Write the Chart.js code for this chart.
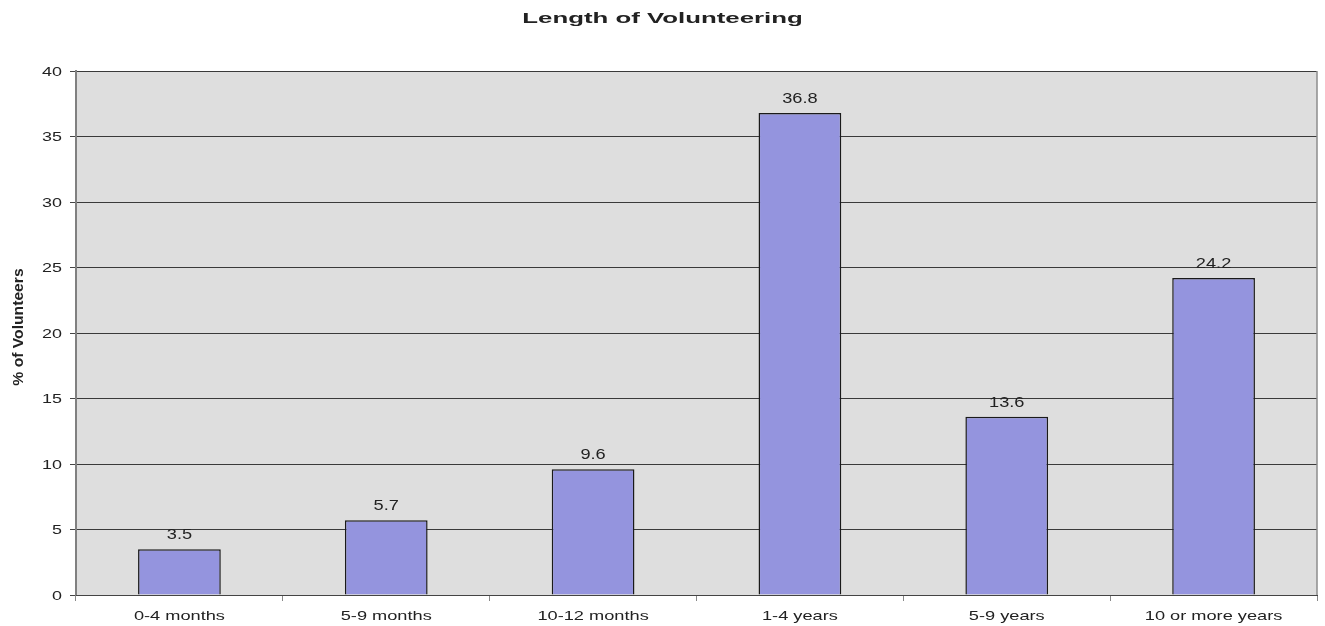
<!DOCTYPE html>
<html>
<head>
<meta charset="utf-8">
<script src="https://cdn.jsdelivr.net/npm/chart.js@4/dist/chart.umd.min.js"></script>
<style>
  html, body { margin: 0; padding: 0; background: #fff; }
  #wrap { width: 1325px; height: 626px; }
</style>
</head>
<body>
<div id="wrap"><canvas id="volchart"></canvas></div>
<script>
"use strict";

var chartTitle = 'Length of Volunteering';
var yAxisTitle = '% of Volunteers';
var categories = ['0-4 months', '5-9 months', '10-12 months', '1-4 years', '5-9 years', '10 or more years'];
var percentValues = [3.5, 5.7, 9.6, 36.8, 13.6, 24.2];
var yTicks = [0, 5, 10, 15, 20, 25, 30, 35, 40];

var FONT = '"Liberation Sans", Arial, sans-serif';

/* the original picture is stretched sideways, so text is drawn widened */
function wideText(ctx, text, x, y, font, sx, align, baseline) {
    ctx.save();
    ctx.font = font;
    ctx.fillStyle = '#222';
    ctx.textAlign = align;
    ctx.textBaseline = baseline;
    ctx.translate(x, y);
    ctx.scale(sx, 1);
    ctx.fillText(text, 0, 0);
    ctx.restore();
}

/* grey plot area behind the bars */
var plotBackground = {
    id: 'plotBackground',
    beforeDraw: function (chart) {
        var a = chart.chartArea, ctx = chart.ctx;
        ctx.save();
        ctx.fillStyle = '#dedede';
        ctx.fillRect(a.left, a.top, a.right - a.left, a.bottom - a.top);
        ctx.restore();
    },
    afterDraw: function (chart) {
        var a = chart.chartArea, ctx = chart.ctx;
        ctx.save();
        ctx.strokeStyle = '#8c8c8c';
        ctx.lineWidth = 1.5;
        ctx.beginPath();
        ctx.moveTo(a.right, a.top);
        ctx.lineTo(a.right, a.bottom);
        ctx.stroke();
        ctx.restore();
    }
};

/* all the texts: title, tick labels, axis title, value labels */
var textLayer = {
    id: 'textLayer',
    afterDraw: function (chart) {
        var ctx = chart.ctx, a = chart.chartArea;
        var xs = chart.scales.x, ys = chart.scales.y;

        wideText(ctx, chartTitle, chart.width / 2, 23, 'bold 15px ' + FONT, 1.72, 'center', 'alphabetic');

        yTicks.forEach(function (v) {
            wideText(ctx, String(v), a.left - 14, ys.getPixelForValue(v) + 1, '13px ' + FONT, 1.38, 'right', 'middle');
        });

        categories.forEach(function (c, i) {
            wideText(ctx, c, xs.getPixelForValue(i), a.bottom + 21, '13px ' + FONT, 1.4, 'center', 'middle');
        });

        var meta = chart.getDatasetMeta(0);
        meta.data.forEach(function (bar, i) {
            wideText(ctx, String(percentValues[i]), bar.x, bar.y - 10, '14px ' + FONT, 1.3, 'center', 'alphabetic');
        });

        /* rotated y title, drawn longer along its line */
        ctx.save();
        ctx.font = 'bold 14px ' + FONT;
        ctx.fillStyle = '#222';
        ctx.textAlign = 'center';
        ctx.textBaseline = 'middle';
        ctx.translate(19, 327);
        ctx.rotate(-Math.PI / 2);
        ctx.scale(1.12, 1);
        ctx.fillText(yAxisTitle, 0, 0);
        ctx.restore();
    }
};

var ctx = document.getElementById('volchart').getContext('2d');
var volChart = new Chart(ctx, {
    type: 'bar',
    data: {
        labels: categories,
        datasets: [{
            label: yAxisTitle,
            data: percentValues,
            backgroundColor: '#9494de',
            borderColor: '#1a1a1a',
            borderWidth: 1.5,
            borderSkipped: 'bottom',
            categoryPercentage: 1,
            barPercentage: 0.4
        }]
    },
    options: {
        animation: false,
        responsive: true,
        maintainAspectRatio: false,
        layout: {
            padding: { top: 71, right: 8, bottom: 0, left: 0 }
        },
        plugins: {
            legend: { display: false },
            tooltip: { enabled: false },
            title: { display: false }
        },
        scales: {
            y: {
                min: 0,
                max: 40,
                afterBuildTicks: function (axis) {
                    axis.ticks = yTicks.map(function (v) { return { value: v }; });
                },
                afterFit: function (axis) { axis.width = 76; },
                border: { display: true, color: '#808080', width: 2 },
                grid: {
                    color: '#3a3a3a',
                    lineWidth: 1,
                    drawTicks: true,
                    tickLength: 6,
                    tickColor: '#444'
                },
                ticks: { display: false }
            },
            x: {
                afterFit: function (axis) { axis.height = 31; },
                border: { display: true, color: '#444', width: 1 },
                grid: {
                    offset: true,
                    drawOnChartArea: false,
                    drawTicks: true,
                    tickLength: 6,
                    tickColor: '#888'
                },
                ticks: { display: false }
            }
        }
    },
    plugins: [plotBackground, textLayer]
});
</script>
</body>
</html>
